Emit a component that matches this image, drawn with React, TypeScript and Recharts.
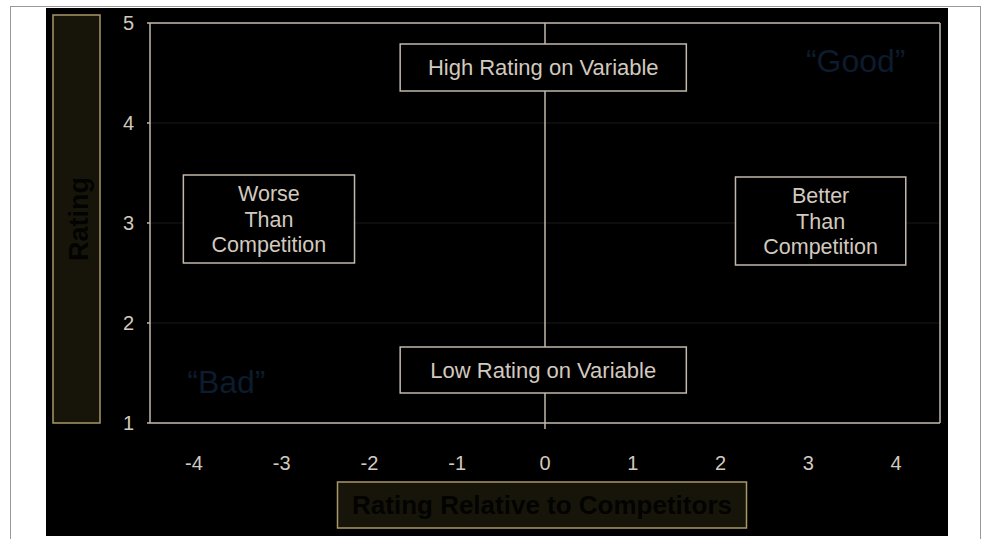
import React from "react"
import {
  ScatterChart,
  Scatter,
  XAxis,
  YAxis,
  CartesianGrid,
  ReferenceLine,
  ReferenceArea,
} from "recharts"

// axes
const xTicks = [-4, -3, -2, -1, 0, 1, 2, 3, 4]
const yTicks = [1, 2, 3, 4, 5]
const xDomain: [number, number] = [-4.5, 4.5]
const yDomain: [number, number] = [1, 5]

// quadrant boxes (data coordinates)
const boxText = [
  ["High Rating on Variable"],
  ["Low Rating on Variable"],
  ["Worse", "Than", "Competition"],
  ["Better", "Than", "Competition"],
]
const boxX = [
  [-1.65, 1.61],
  [-1.65, 1.61],
  [-4.12, -2.17],
  [2.17, 4.11],
]
const boxY = [
  [4.32, 4.79],
  [1.3, 1.76],
  [2.6, 3.48],
  [2.58, 3.46],
]

// vertical divider at x = 0, running a little past the x axis
const dividerY: [number, number] = [5, 0.94]

// corner notes
const notes = [
  { x: 3.54, y: 4.62, text: "\u201cGood\u201d" },
  { x: -3.63, y: 1.41, text: "\u201cBad\u201d" },
]

const FONT = "'Liberation Sans', Arial, Helvetica, sans-serif"
const LINE = "#c2b8ab"
const TEXT = "#d2c9bf"
const TITLE_FILL = "#17150a"
const TITLE_EDGE = "#a8976a"

// pieces of the divider that are not hidden behind a box
function dividerSegments() {
  const gaps = boxX
    .map((bx, i) => ({ bx, by: boxY[i] }))
    .filter((b) => b.bx[0] < 0 && b.bx[1] > 0)
    .map((b) => [Math.max(b.by[0], b.by[1]), Math.min(b.by[0], b.by[1])])
    .sort((a, b) => b[0] - a[0])
  const segs: [number, number][] = []
  let top = dividerY[0]
  gaps.forEach(([hi, lo]) => {
    if (hi < top) segs.push([top, hi])
    top = Math.min(top, lo)
  })
  segs.push([top, dividerY[1]])
  return segs
}

const BoxLabel = (props: any) => {
  const vb = props.viewBox || {}
  const lines: string[] = props.lines || []
  const cx = vb.x + vb.width / 2
  const cy = vb.y + vb.height / 2
  const step = 25.5
  const size = lines.length > 1 ? 21.5 : 22
  const start = cy - ((lines.length - 1) * step) / 2
  return (
    <g>
      {lines.map((l, i) => (
        <text
          key={i}
          x={cx}
          y={start + i * step + 7.5}
          textAnchor="middle"
          fill={TEXT}
          fontSize={size}
          fontFamily={FONT}
        >
          {l}
        </text>
      ))}
    </g>
  )
}

const RatingLabel = (props: any) => {
  const vb = props.viewBox || { x: 0, y: 23, width: 150, height: 400 }
  const left = vb.x + 53
  const top = vb.y - 8
  const h = vb.height + 8
  const cx = vb.x + 78
  const cy = top + h / 2
  return (
    <g>
      <rect x={left} y={top} width={47} height={h} fill={TITLE_FILL} stroke={TITLE_EDGE} strokeWidth={1.5} />
      <text
        x={cx}
        y={cy + 9.5}
        transform={`rotate(-90, ${cx}, ${cy})`}
        textAnchor="middle"
        fill="#030302"
        fontSize={27}
        fontWeight="bold"
        fontFamily={FONT}
      >
        Rating
      </text>
    </g>
  )
}

const AxisTitle = (props: any) => {
  const vb = props.viewBox || { x: 150, y: 423, width: 790, height: 40 }
  const cx = vb.x + 392
  const top = vb.y + 59
  return (
    <g>
      <rect x={cx - 204.5} y={top} width={409} height={46} fill={TITLE_FILL} stroke={TITLE_EDGE} strokeWidth={1.5} />
      <text
        x={cx}
        y={top + 32}
        textAnchor="middle"
        fill="#030302"
        fontSize={26}
        fontWeight="bold"
        fontFamily={FONT}
      >
        Rating Relative to Competitors
      </text>
    </g>
  )
}

const NoteShape = (props: any) => (
  <text
    x={props.cx}
    y={props.cy + 11}
    textAnchor="middle"
    fill="#0c1b2d"
    fontSize={32}
    fontFamily={FONT}
  >
    {props.payload.text}
  </text>
)

export default function App() {
  const segs = dividerSegments()
  return (
    <div
      style={{
        position: "fixed",
        left: 0,
        top: 0,
        width: 988,
        height: 539,
        background: "#fff",
        overflow: "hidden",
      }}
    >
      <div
        style={{
          position: "absolute",
          left: 10,
          top: 6,
          width: 971,
          height: 560,
          border: "1px solid #999",
          boxSizing: "border-box",
        }}
      />
      <div style={{ position: "absolute", left: 46, top: 8, width: 902, height: 528, background: "#000" }} />
      <div style={{ position: "absolute", left: 0, top: 0 }}>
        <ScatterChart width={988} height={539} margin={{ top: 23, right: 48, bottom: 76, left: 0 }}>
          <CartesianGrid horizontal vertical={false} stroke="#181818" />
          <XAxis
            type="number"
            dataKey="x"
            domain={xDomain}
            ticks={xTicks}
            allowDataOverflow
            height={40}
            tickLine={false}
            tickSize={0}
            tickMargin={33}
            stroke={LINE}
            strokeWidth={1.5}
            tick={{ fill: TEXT, fontSize: 20, fontFamily: FONT }}
            label={<AxisTitle />}
          />
          <YAxis
            type="number"
            dataKey="y"
            domain={yDomain}
            ticks={yTicks}
            allowDataOverflow
            width={150}
            tickSize={3}
            tickMargin={13}
            stroke={LINE}
            strokeWidth={1.5}
            tick={{ fill: TEXT, fontSize: 20, fontFamily: FONT }}
            label={<RatingLabel />}
          />
          <ReferenceLine y={5} stroke={LINE} strokeWidth={1.5} />
          <ReferenceLine x={4.5} stroke={LINE} strokeWidth={1.5} />
          {segs.map(([a, b], i) => (
            <ReferenceLine
              key={`seg-${i}`}
              segment={[
                { x: 0, y: a },
                { x: 0, y: b },
              ]}
              ifOverflow="visible"
              stroke={LINE}
              strokeWidth={1.5}
            />
          ))}
          {boxText.map((lines, i) => (
            <ReferenceArea
              key={i}
              x1={boxX[i][0]}
              x2={boxX[i][1]}
              y1={boxY[i][0]}
              y2={boxY[i][1]}
              fill="#000"
              fillOpacity={1}
              stroke={LINE}
              strokeWidth={1.5}
              label={<BoxLabel lines={lines} />}
            />
          ))}
          <Scatter data={notes} shape={<NoteShape />} isAnimationActive={false} />
        </ScatterChart>
      </div>
    </div>
  )
}
